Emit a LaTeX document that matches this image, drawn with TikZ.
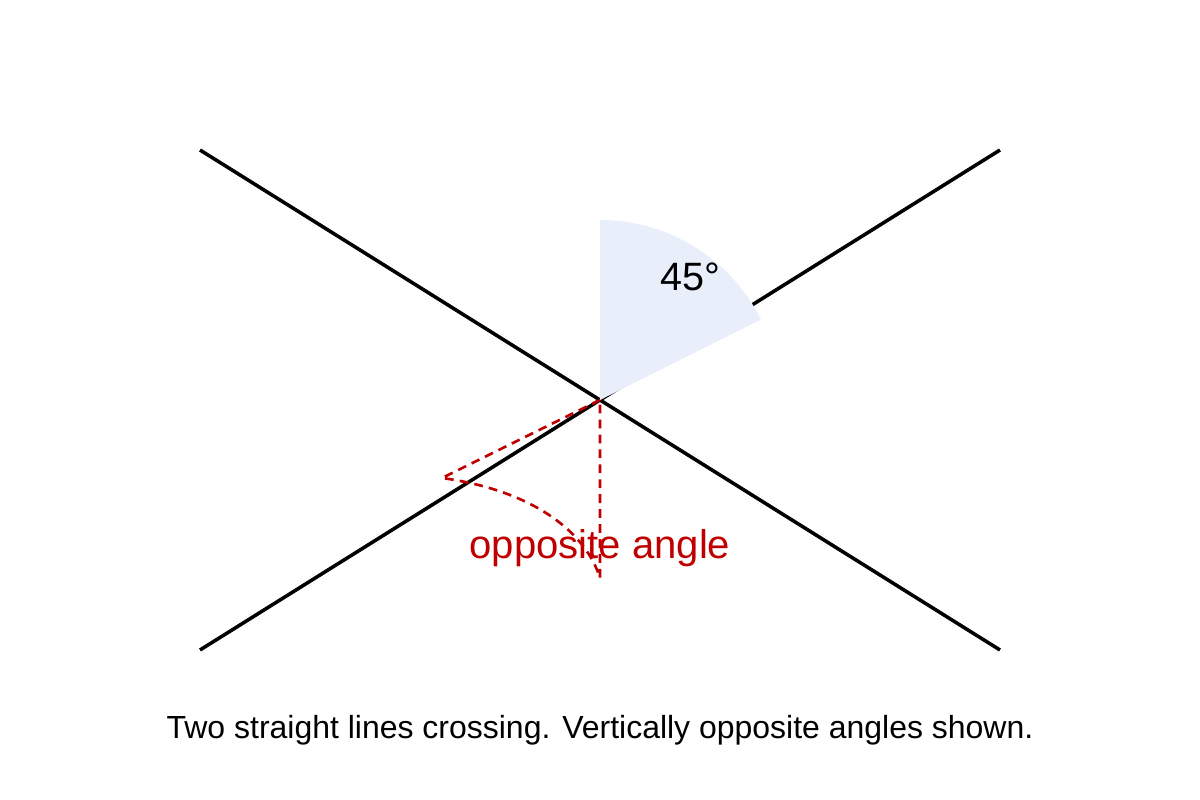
\documentclass[tikz,border=0pt]{standalone}
\usepackage{fontspec}
\setmainfont{Liberation Sans}
\definecolor{wedge}{HTML}{E8EFFB}
\definecolor{redd}{HTML}{C00000}
\begin{document}
\begin{tikzpicture}[x=0.02cm,y=-0.02cm,
  ln/.style={line width=2pt,black},
  rd/.style={redd,line width=1.5pt,dash pattern=on 5pt off 3.5pt}]
\useasboundingbox (0,0) rectangle (1200,800);
\coordinate (A) at (200,150); \coordinate (B) at (1000,650);
\coordinate (C) at (200,650); \coordinate (D) at (1000,150);
\coordinate (O) at (600,400);
\coordinate (P) at (442,478); \coordinate (Q) at (600,578);
\draw[ln] (A) -- (B);
\draw[ln] (C) -- (D);
\fill[wedge] (O) -- ++(0,-180) arc[start angle=-90,end angle=-26.6,radius=180] -- cycle;
\node (t45) at (690,277) {\fontsize{22.5}{26}\selectfont 45°};
\draw[rd] (O) -- (P) .. controls (530,490) and (585,530) .. (Q) -- (O);
\node[text=redd] (lab) at (600,548) {\fontsize{22.8}{26}\selectfont opposite angle};
\node (cap) at (600,730) {\fontsize{18.2}{21}\selectfont Two straight lines crossing. Vertically opposite angles shown.};
\end{tikzpicture}
\end{document}
